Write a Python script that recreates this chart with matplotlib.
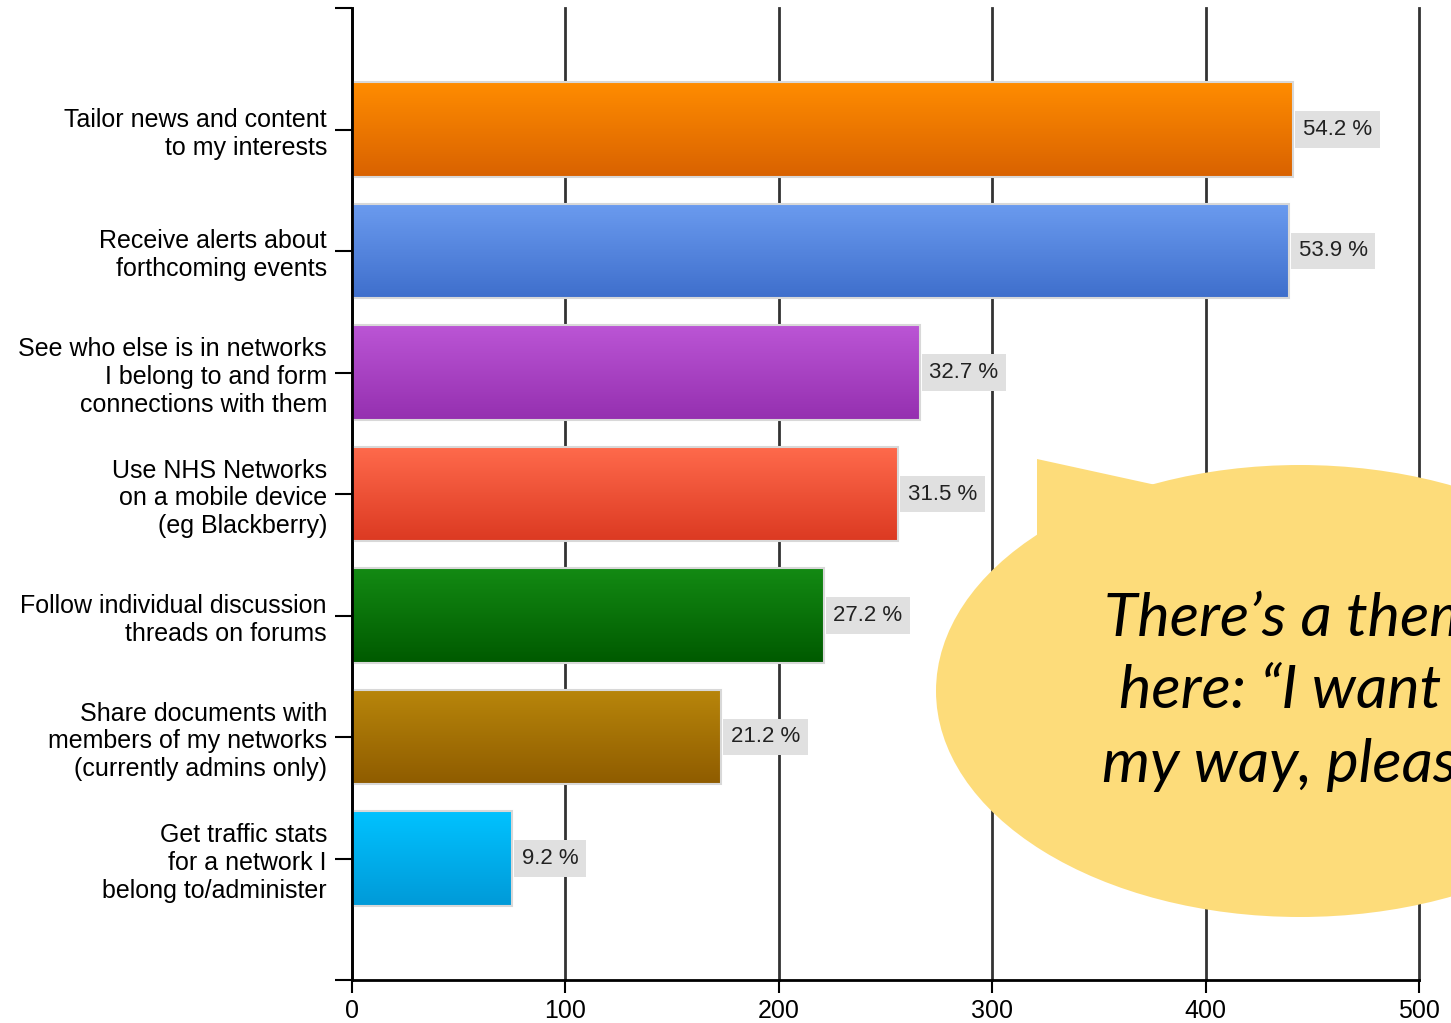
import numpy as np
import matplotlib
matplotlib.use("Agg")
import matplotlib.pyplot as plt
from matplotlib.colors import LinearSegmentedColormap
from matplotlib.patches import Ellipse, Polygon

categories = [
    "Tailor news and content\nto my interests",
    "Receive alerts about\nforthcoming events",
    "See who else is in networks\nI belong to and form\nconnections with them",
    "Use NHS Networks\non a mobile device\n(eg Blackberry)",
    "Follow individual discussion\nthreads on forums",
    "Share documents with\nmembers of my networks\n(currently admins only)",
    "Get traffic stats\nfor a network I\nbelong to/administer",
]
counts = [441, 439, 266, 256, 221, 173, 75]
percents = ["54.2 %", "53.9 %", "32.7 %", "31.5 %", "27.2 %", "21.2 %", "9.2 %"]
xticks = [0, 100, 200, 300, 400, 500]

top_colors = ["#ff8c00", "#6b9bef", "#bb55d5", "#ff6a4c", "#138a13", "#b8860b", "#00c2ff"]
bottom_colors = ["#d96200", "#3f6fcc", "#9530b0", "#dc3a22", "#005a00", "#8f5c00", "#009ad8"]

bubble_text = "There\u2019s a theme\nhere: \u201cI want it\nmy way, please\u201d"

plt.rcParams["font.family"] = ["Liberation Sans", "DejaVu Sans"]

fig = plt.figure(figsize=[14.51, 10.23], dpi=100)
ax = fig.add_axes([352 / 1451, 1 - 980 / 1023, (1419 - 352) / 1451, (980 - 8) / 1023])

pos = np.arange(len(categories))
h = 0.78
bars = ax.barh(pos, counts, height=h, facecolor="none", edgecolor="#d8d8d8", lw=1.5, zorder=3)

grad = np.linspace(0, 1, 64).reshape(-1, 1)
for i, b in enumerate(bars):
    cmap = LinearSegmentedColormap.from_list("g%d" % i, [top_colors[i], bottom_colors[i]])
    im = ax.imshow(grad, cmap=cmap, aspect="auto", zorder=2,
                   extent=(0, counts[i], pos[i] + h / 2, pos[i] - h / 2))
    im.set_clip_path(b)
    ax.annotate(percents[i], (counts[i], pos[i]), xytext=(7, 0), textcoords="offset points",
                ha="left", va="center", fontsize=16, color="#222222", zorder=6,
                bbox=dict(boxstyle="square,pad=0.35", fc="#e0e0e0", ec="none"))

ax.set_xlim(0, 500)
ax.set_ylim(7, -1)
ax.set_xticks(xticks)
ax.set_xticklabels([str(t) for t in xticks], fontsize=18)
ax.set_yticks(list(range(-1, 8)))
ax.set_yticklabels([""] + categories + [""], fontsize=18, linespacing=1.2)
ax.tick_params(axis="y", length=12, width=1.5, pad=6)
ax.tick_params(axis="x", length=9, width=1.5, pad=5)
ax.grid(axis="x", color="#333333", lw=2, zorder=1)
for gl in ax.get_xgridlines():
    gl.set_clip_on(False)
ax.set_axisbelow(True)
for s in ["top", "right"]:
    ax.spines[s].set_visible(False)
for s in ["left", "bottom"]:
    ax.spines[s].set_linewidth(2)
    ax.spines[s].set_zorder(4)

# speech bubble
W, H = 1451, 1023
def fp(x, y):
    return (x / W, 1 - y / H)

tail = Polygon([fp(1037, 459), fp(1165, 487), fp(1037, 545)], closed=True,
               transform=fig.transFigure, fc="#fddc7a", ec="none", zorder=5)
bubble = Ellipse(fp(1300, 691), 728 / W, 452 / H, transform=fig.transFigure,
                 fc="#fddc7a", ec="none", zorder=5)
fig.add_artist(tail)
fig.add_artist(bubble)
fig.text(1305 / W, 1 - 692 / H, bubble_text, ha="center", va="center", fontsize=44,
         family=["Lato", "DejaVu Sans"], style="italic", weight="normal",
         linespacing=1.4, zorder=6)

fig.savefig("out.png", dpi=100)
